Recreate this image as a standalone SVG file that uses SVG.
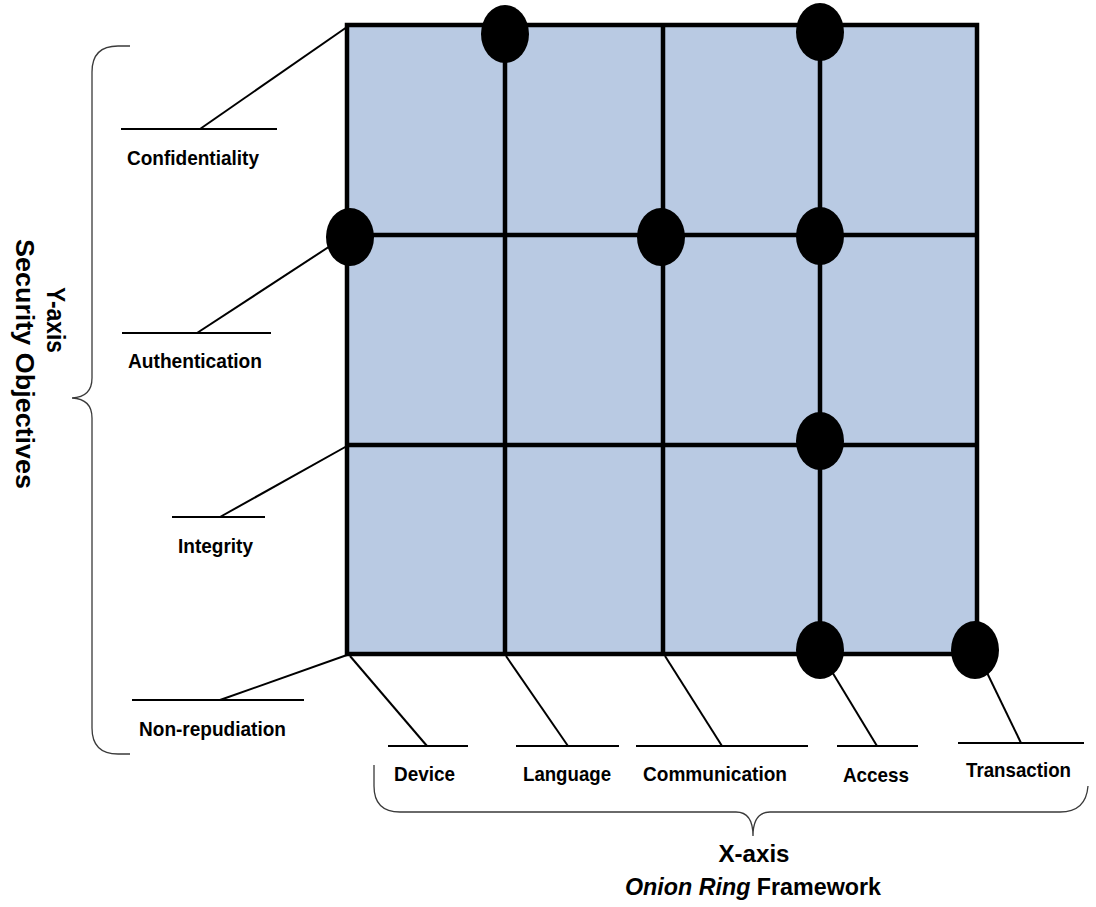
<svg xmlns="http://www.w3.org/2000/svg" width="1096" height="907" viewBox="0 0 1096 907">
<style>
.lbl{font-family:"Liberation Sans",Arial,sans-serif;font-weight:bold;font-size:21px;fill:#000}
.ttl{font-family:"Liberation Sans",Arial,sans-serif;font-weight:bold;font-size:26px;fill:#000}
.xt{font-size:24px}
.lead{stroke:#000;stroke-width:2;fill:none}
.grid{stroke:#000;stroke-width:4.5;fill:none}
.dot{fill:#000}
.brace{stroke:#3a3a3a;stroke-width:1.3;fill:none}
</style>
<rect width="1096" height="907" fill="#fff"/>
<g id="connectors">
<polyline class="lead" points="121,129 277,129"/><line class="lead" x1="200" y1="129" x2="347" y2="27"/>
<polyline class="lead" points="122,333 271,333"/><line class="lead" x1="197" y1="333" x2="347" y2="235"/>
<polyline class="lead" points="172,517 265,517"/><line class="lead" x1="220" y1="517" x2="347" y2="446"/>
<polyline class="lead" points="132,700 304,700"/><line class="lead" x1="220" y1="700" x2="347" y2="655"/>
<polyline class="lead" points="388,746 468,746"/><line class="lead" x1="350" y1="656" x2="427" y2="746"/>
<polyline class="lead" points="516,746 619,746"/><line class="lead" x1="506" y1="656" x2="568" y2="746"/>
<polyline class="lead" points="636,746 808,746"/><line class="lead" x1="665" y1="656" x2="722" y2="746"/>
<polyline class="lead" points="837,746 918,746"/><line class="lead" x1="820" y1="652" x2="877" y2="746"/>
<polyline class="lead" points="958,743 1084,743"/><line class="lead" x1="976" y1="650" x2="1021" y2="743"/>
</g>
<g id="grid">
<rect x="347" y="25" width="630" height="629" fill="#b9cae3"/>
<line class="grid" x1="505" y1="25" x2="505" y2="654"/>
<line class="grid" x1="663" y1="25" x2="663" y2="654"/>
<line class="grid" x1="820" y1="25" x2="820" y2="654"/>
<line class="grid" x1="347" y1="235" x2="977" y2="235"/>
<line class="grid" x1="347" y1="445" x2="977" y2="445"/>
<rect class="grid" x="347" y="25" width="630" height="629" stroke-width="5"/>
</g>
<g id="markers">
<ellipse class="dot" cx="505" cy="34" rx="24" ry="29"/>
<ellipse class="dot" cx="820" cy="32" rx="24" ry="29"/>
<ellipse class="dot" cx="350" cy="237" rx="24" ry="29"/>
<ellipse class="dot" cx="661" cy="237" rx="24" ry="29"/>
<ellipse class="dot" cx="820" cy="236" rx="24" ry="29"/>
<ellipse class="dot" cx="820" cy="441" rx="24" ry="29"/>
<ellipse class="dot" cx="820" cy="650" rx="24" ry="29"/>
<ellipse class="dot" cx="975" cy="650" rx="24" ry="29"/>
</g>
<g id="y-labels">
<g id="n-confidentiality"><text class="lbl" x="127" y="165" textLength="132" lengthAdjust="spacingAndGlyphs">Confidentiality</text></g>
<g id="n-authentication"><text class="lbl" x="128" y="368" textLength="134" lengthAdjust="spacingAndGlyphs">Authentication</text></g>
<g id="n-integrity"><text class="lbl" x="178" y="553" textLength="75" lengthAdjust="spacingAndGlyphs">Integrity</text></g>
<g id="n-nonrepudiation"><text class="lbl" x="139" y="736" textLength="147" lengthAdjust="spacingAndGlyphs">Non-repudiation</text></g>
</g>
<g id="x-labels">
<g id="n-device"><text class="lbl" x="394" y="781" textLength="61" lengthAdjust="spacingAndGlyphs">Device</text></g>
<g id="n-language"><text class="lbl" x="523" y="781" textLength="88" lengthAdjust="spacingAndGlyphs">Language</text></g>
<g id="n-communication"><text class="lbl" x="643" y="781" textLength="144" lengthAdjust="spacingAndGlyphs">Communication</text></g>
<g id="n-access"><text class="lbl" x="843" y="782" textLength="66" lengthAdjust="spacingAndGlyphs">Access</text></g>
<g id="n-transaction"><text class="lbl" x="966" y="777" textLength="105" lengthAdjust="spacingAndGlyphs">Transaction</text></g>
</g>
<g id="y-axis">
<path class="brace" d="M130,46 L118,46 Q92,46 92,72 L92,378 Q92,397 72,398 Q92,399 92,418 L92,728 Q92,754 118,754 L130,754"/>
<text class="ttl" transform="translate(47,320) rotate(90)" text-anchor="middle" textLength="66" lengthAdjust="spacingAndGlyphs">Y-axis</text>
<text class="ttl" transform="translate(16,364) rotate(90)" text-anchor="middle" textLength="250" lengthAdjust="spacingAndGlyphs">Security Objectives</text>
</g>
<g id="x-axis">
<path class="brace" d="M374,765 L374,786 Q374,812 400,812 L736,812 Q753,812 753,836 Q753,812 770,812 L1060,812 Q1086,812 1088,786"/>
<text class="ttl xt" x="754" y="862" text-anchor="middle" textLength="71" lengthAdjust="spacingAndGlyphs">X-axis</text>
<text class="ttl xt" x="753" y="895" text-anchor="middle" textLength="256" lengthAdjust="spacingAndGlyphs"><tspan font-style="italic">Onion Ring</tspan> Framework</text>
</g>
</svg>
